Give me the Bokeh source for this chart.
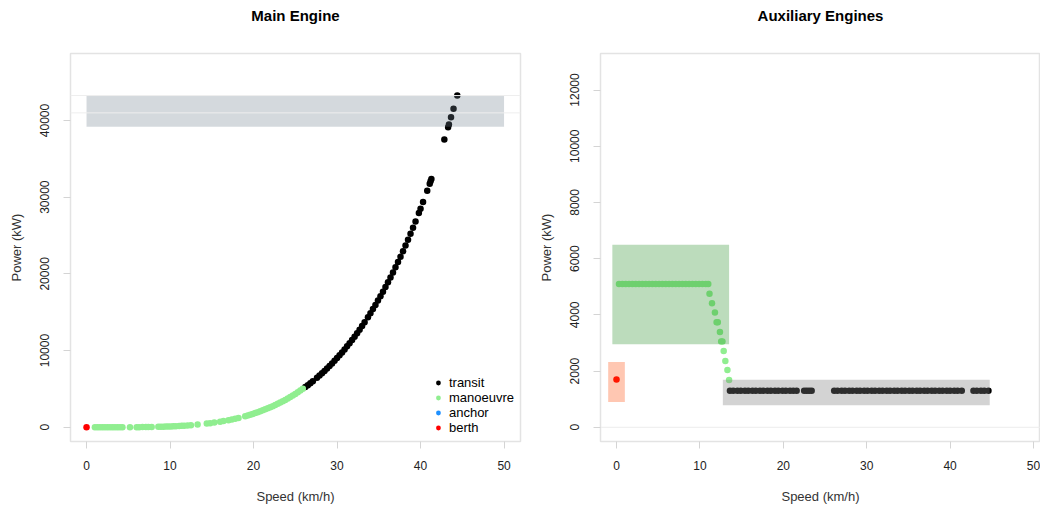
from bokeh.plotting import figure
from bokeh.layouts import row
from bokeh.models import Range1d, FixedTicker, Span, Legend, LegendItem, NumeralTickFormatter, Title
from bokeh.embed import file_html
from bokeh.resources import INLINE

# ---------------- data ----------------
titles = ["Main Engine", "Auxiliary Engines"]
x_ticks = [0, 10, 20, 30, 40, 50]
me_y_ticks = [0, 10000, 20000, 30000, 40000]
ae_y_ticks = [0, 2000, 4000, 6000, 8000, 10000, 12000]

# Main engine
me_berth_speed = [0.0]
me_berth_power = [0]
me_anchor_speed = [float("nan")]   # no anchor observations (legend entry only)
me_anchor_power = [float("nan")]
me_man_speed = [1.0, 1.3, 1.6, 1.9, 2.2, 2.5, 2.8, 3.1, 3.4, 3.7, 4.0, 4.3, 5.2,
                6.0, 6.3, 6.7, 7.1, 7.4, 7.8, 8.6, 8.9, 9.2, 9.5, 9.8, 10.1, 10.4,
                10.7, 11.1, 11.4, 11.7, 12.1, 12.5, 13.3, 14.4, 14.8, 15.3, 16.0,
                16.4, 17.0, 17.4, 17.8, 18.2, 19.0, 19.3, 19.6, 19.9, 20.2, 20.5,
                20.8, 21.1, 21.4, 21.7, 22.0, 22.3, 22.6, 22.9, 23.2, 23.5, 23.8,
                24.1, 24.4, 24.7, 25.0, 25.3, 25.6, 25.9]
me_man_power = [0, 0, 0, 0, 0, 0, 1, 1, 1, 2, 3, 4, 8,
                14, 18, 22, 28, 33, 41, 61, 70, 80, 91, 103, 116, 130,
                146, 169, 188, 209, 239, 272, 348, 479, 534, 610, 729,
                805, 930, 1020, 1117, 1221, 1450, 1544, 1643, 1745, 1853, 1966,
                2083, 2206, 2334, 2468, 2607, 2752, 2904, 3061, 3224, 3394, 3571,
                3755, 3945, 4143, 4348, 4560, 4780, 5008]
me_tr_speed = [26.2, 26.5, 26.8, 27.1, 27.6, 27.9, 28.2, 28.5, 28.8, 29.1, 29.4,
               29.7, 30.0, 30.3, 30.6, 30.9, 31.2, 31.5, 31.8, 32.1, 32.4, 32.7,
               33.0, 33.3, 33.7, 34.0, 34.3, 34.6, 34.9, 35.2, 35.5, 35.8, 36.1,
               36.4, 36.7, 37.0, 37.3, 37.6, 37.9, 38.2, 38.5, 38.8, 39.1, 39.4,
               39.8, 40.0, 40.3, 40.8, 41.1, 41.2, 41.3, 42.85, 43.3, 43.4, 43.65,
               43.95, 44.4]
me_tr_power = [5244, 5489, 5742, 6003, 6459, 6744, 7039, 7343, 7657, 7981, 8315,
               8660, 9015, 9381, 9758, 10147, 10547, 10958, 11382, 11817, 12265, 12726,
               13199, 13686, 14355, 14873, 15405, 15951, 16512, 17087, 17677, 18282, 18903,
               19539, 20191, 20859, 21544, 22246, 22964, 23700, 24453, 25225, 26014, 26821,
               27927, 28493, 29357, 30842, 31759, 32069, 32381, 37523, 39124, 39487, 40405,
               41527, 43254]
me_box_left = [0]
me_box_right = [50]
me_box_bottom = [39170]
me_box_top = [43250]
me_ref_lines = [40990, 43250]

# Auxiliary engines
ae_berth_speed = [0.0]
ae_berth_power = [1700]
ae_man_speed = [0.3, 0.7, 1.1, 1.5, 1.9, 2.3, 2.7, 3.1, 3.5, 3.9, 4.3, 4.7, 5.1, 5.5,
                5.9, 6.3, 6.7, 7.1, 7.5, 7.9, 8.3, 8.7, 9.1, 9.5, 9.9, 10.3, 10.7, 11.0,
                11.15, 11.45, 11.8, 12.0, 12.15, 12.4, 12.55, 12.7, 12.85, 13.05, 13.3, 13.5]
ae_man_power = [5100, 5100, 5100, 5100, 5100, 5100, 5100, 5100, 5100, 5100, 5100, 5100, 5100, 5100,
                5100, 5100, 5100, 5100, 5100, 5100, 5100, 5100, 5100, 5100, 5100, 5100, 5100, 5100,
                4750, 4410, 4080, 3740, 3740, 3390, 3050, 3050, 2710, 2360, 2035, 1685]
ae_tr_speed = [13.6, 14.0, 14.5, 14.9, 15.4, 15.8, 16.3, 16.7, 17.2, 17.6, 18.1, 18.5,
               19.0, 19.4, 19.9, 20.3, 20.8, 21.2, 21.6, 22.5, 22.8, 23.1, 23.4,
               26.1, 26.5, 27.0, 27.4, 27.9, 28.3, 28.8, 29.2, 29.7, 30.1, 30.6, 31.0,
               31.5, 31.9, 32.4, 32.8, 33.3, 33.7, 34.2, 34.6, 35.1, 35.5, 36.0, 36.4,
               36.9, 37.3, 37.8, 38.2, 38.7, 39.1, 39.6, 40.0, 40.5, 40.9, 41.4,
               42.8, 43.2, 43.7, 44.1, 44.6]
ae_tr_power = [1300, 1300, 1300, 1300, 1300, 1300, 1300, 1300, 1300, 1300, 1300, 1300,
               1300, 1300, 1300, 1300, 1300, 1300, 1300, 1300, 1300, 1300, 1300,
               1300, 1300, 1300, 1300, 1300, 1300, 1300, 1300, 1300, 1300, 1300, 1300,
               1300, 1300, 1300, 1300, 1300, 1300, 1300, 1300, 1300, 1300, 1300, 1300,
               1300, 1300, 1300, 1300, 1300, 1300, 1300, 1300, 1300, 1300, 1300,
               1300, 1300, 1300, 1300, 1300]
ae_box_left = [-1.0, -0.5, 12.75]
ae_box_right = [1.0, 13.5, 44.75]
ae_box_bottom = [900, 2950, 780]
ae_box_top = [2325, 6490, 1690]
ae_box_color = ["orangered", "forestgreen", "gray"]
ae_box_alpha = [0.3, 0.3, 0.35]
ae_ref_lines = [0]

legend_labels = ["transit", "manoeuvre", "anchor", "berth"]
legend_colors = ["black", "#90ee90", "#1e90ff", "#ff0000"]

FONT = "Liberation Sans"


def style(p, yticks, title, title_offset):
    p.outline_line_color = "#e3e3e3"
    p.outline_line_width = 1.5
    p.grid.visible = False
    p.background_fill_color = "white"
    p.border_fill_color = "white"
    # spacer panel between frame and title (keeps the title near the top edge)
    p.add_layout(Title(text=" ", text_font_size="2px", standoff=17), "above")
    p.add_layout(Title(text=title, text_font=FONT, text_font_size="15px",
                       text_font_style="bold", text_color="black", align="center",
                       vertical_align="top", standoff=13, offset=title_offset), "above")
    p.xaxis.ticker = FixedTicker(ticks=x_ticks)
    p.yaxis.ticker = FixedTicker(ticks=yticks)
    p.yaxis.formatter = NumeralTickFormatter(format="0")
    for ax in (p.xaxis[0], p.yaxis[0]):
        ax.axis_line_color = None
        ax.major_tick_line_color = "#d4d4d4"
        ax.major_tick_out = 7
        ax.major_tick_in = 0
        ax.minor_tick_line_color = None
        ax.major_label_text_font = FONT
        ax.major_label_text_font_size = "12px"
        ax.major_label_text_color = "#222222"
        ax.axis_label_text_font = FONT
        ax.axis_label_text_font_size = "13px"
        ax.axis_label_text_font_style = "normal"
        ax.axis_label_text_color = "#333333"
    p.xaxis.major_label_standoff = 12
    p.xaxis.axis_label_standoff = 16
    p.yaxis.major_label_standoff = 14
    p.yaxis.axis_label_standoff = 14
    p.yaxis.major_label_orientation = "vertical"


# ---------------- Main engine ----------------
p1 = figure(width=535, height=506, output_backend="svg", toolbar_location=None,
            x_axis_label="Speed (km/h)", y_axis_label="Power (kW)",
            x_range=Range1d(-1.92, 51.97), y_range=Range1d(-1855, 48730),
            min_border_left=70, min_border_right=15, min_border_top=52, min_border_bottom=64)
style(p1, me_y_ticks, titles[0], 0)

r_tr = p1.scatter(me_tr_speed, me_tr_power, size=6.5, fill_color=legend_colors[0], line_color=None)
r_man = p1.scatter(me_man_speed, me_man_power, size=6.5, fill_color=legend_colors[1], line_color=None)
r_anc = p1.scatter(me_anchor_speed, me_anchor_power, size=6.5, fill_color=legend_colors[2], line_color=None)
r_ber = p1.scatter(me_berth_speed, me_berth_power, size=6.5, fill_color=legend_colors[3], line_color=None)
p1.quad(left=me_box_left, right=me_box_right, bottom=me_box_bottom, top=me_box_top,
        fill_color="slategray", fill_alpha=0.3, line_color=None)
for v in me_ref_lines:
    p1.add_layout(Span(location=v, dimension="width", line_color="#eeeeee", line_width=1,
                       level="overlay"))

legend = Legend(items=[LegendItem(label=legend_labels[i], renderers=[r])
                       for i, r in enumerate([r_tr, r_man, r_anc, r_ber])],
                location="bottom_right", border_line_color=None, background_fill_alpha=0,
                label_text_font=FONT, label_text_font_size="13px", label_text_color="black",
                glyph_width=12, glyph_height=15, label_height=15, label_standoff=5,
                spacing=0, padding=5, margin=6)
p1.add_layout(legend)

# ---------------- Auxiliary engines ----------------
p2 = figure(width=505, height=506, output_backend="svg", toolbar_location=None,
            x_axis_label="Speed (km/h)", y_axis_label="Power (kW)",
            x_range=Range1d(-1.92, 50.84), y_range=Range1d(-506, 13299),
            min_border_left=65, min_border_right=0, min_border_top=52, min_border_bottom=64)
style(p2, ae_y_ticks, titles[1], 5)
for v in ae_ref_lines:
    p2.add_layout(Span(location=v, dimension="width", line_color="#ececec", line_width=1,
                       level="underlay"))

p2.scatter(ae_tr_speed, ae_tr_power, size=6.5, fill_color=legend_colors[0], line_color=None)
p2.scatter(ae_man_speed, ae_man_power, size=6.5, fill_color=legend_colors[1], line_color=None)
p2.scatter(ae_berth_speed, ae_berth_power, size=6.5, fill_color=legend_colors[3], line_color=None)
p2.quad(left=ae_box_left, right=ae_box_right, bottom=ae_box_bottom, top=ae_box_top,
        fill_color=ae_box_color, fill_alpha=ae_box_alpha, line_color=None)

layout = row(p1, p2)
open("out.html", "w").write(file_html(layout, INLINE))
